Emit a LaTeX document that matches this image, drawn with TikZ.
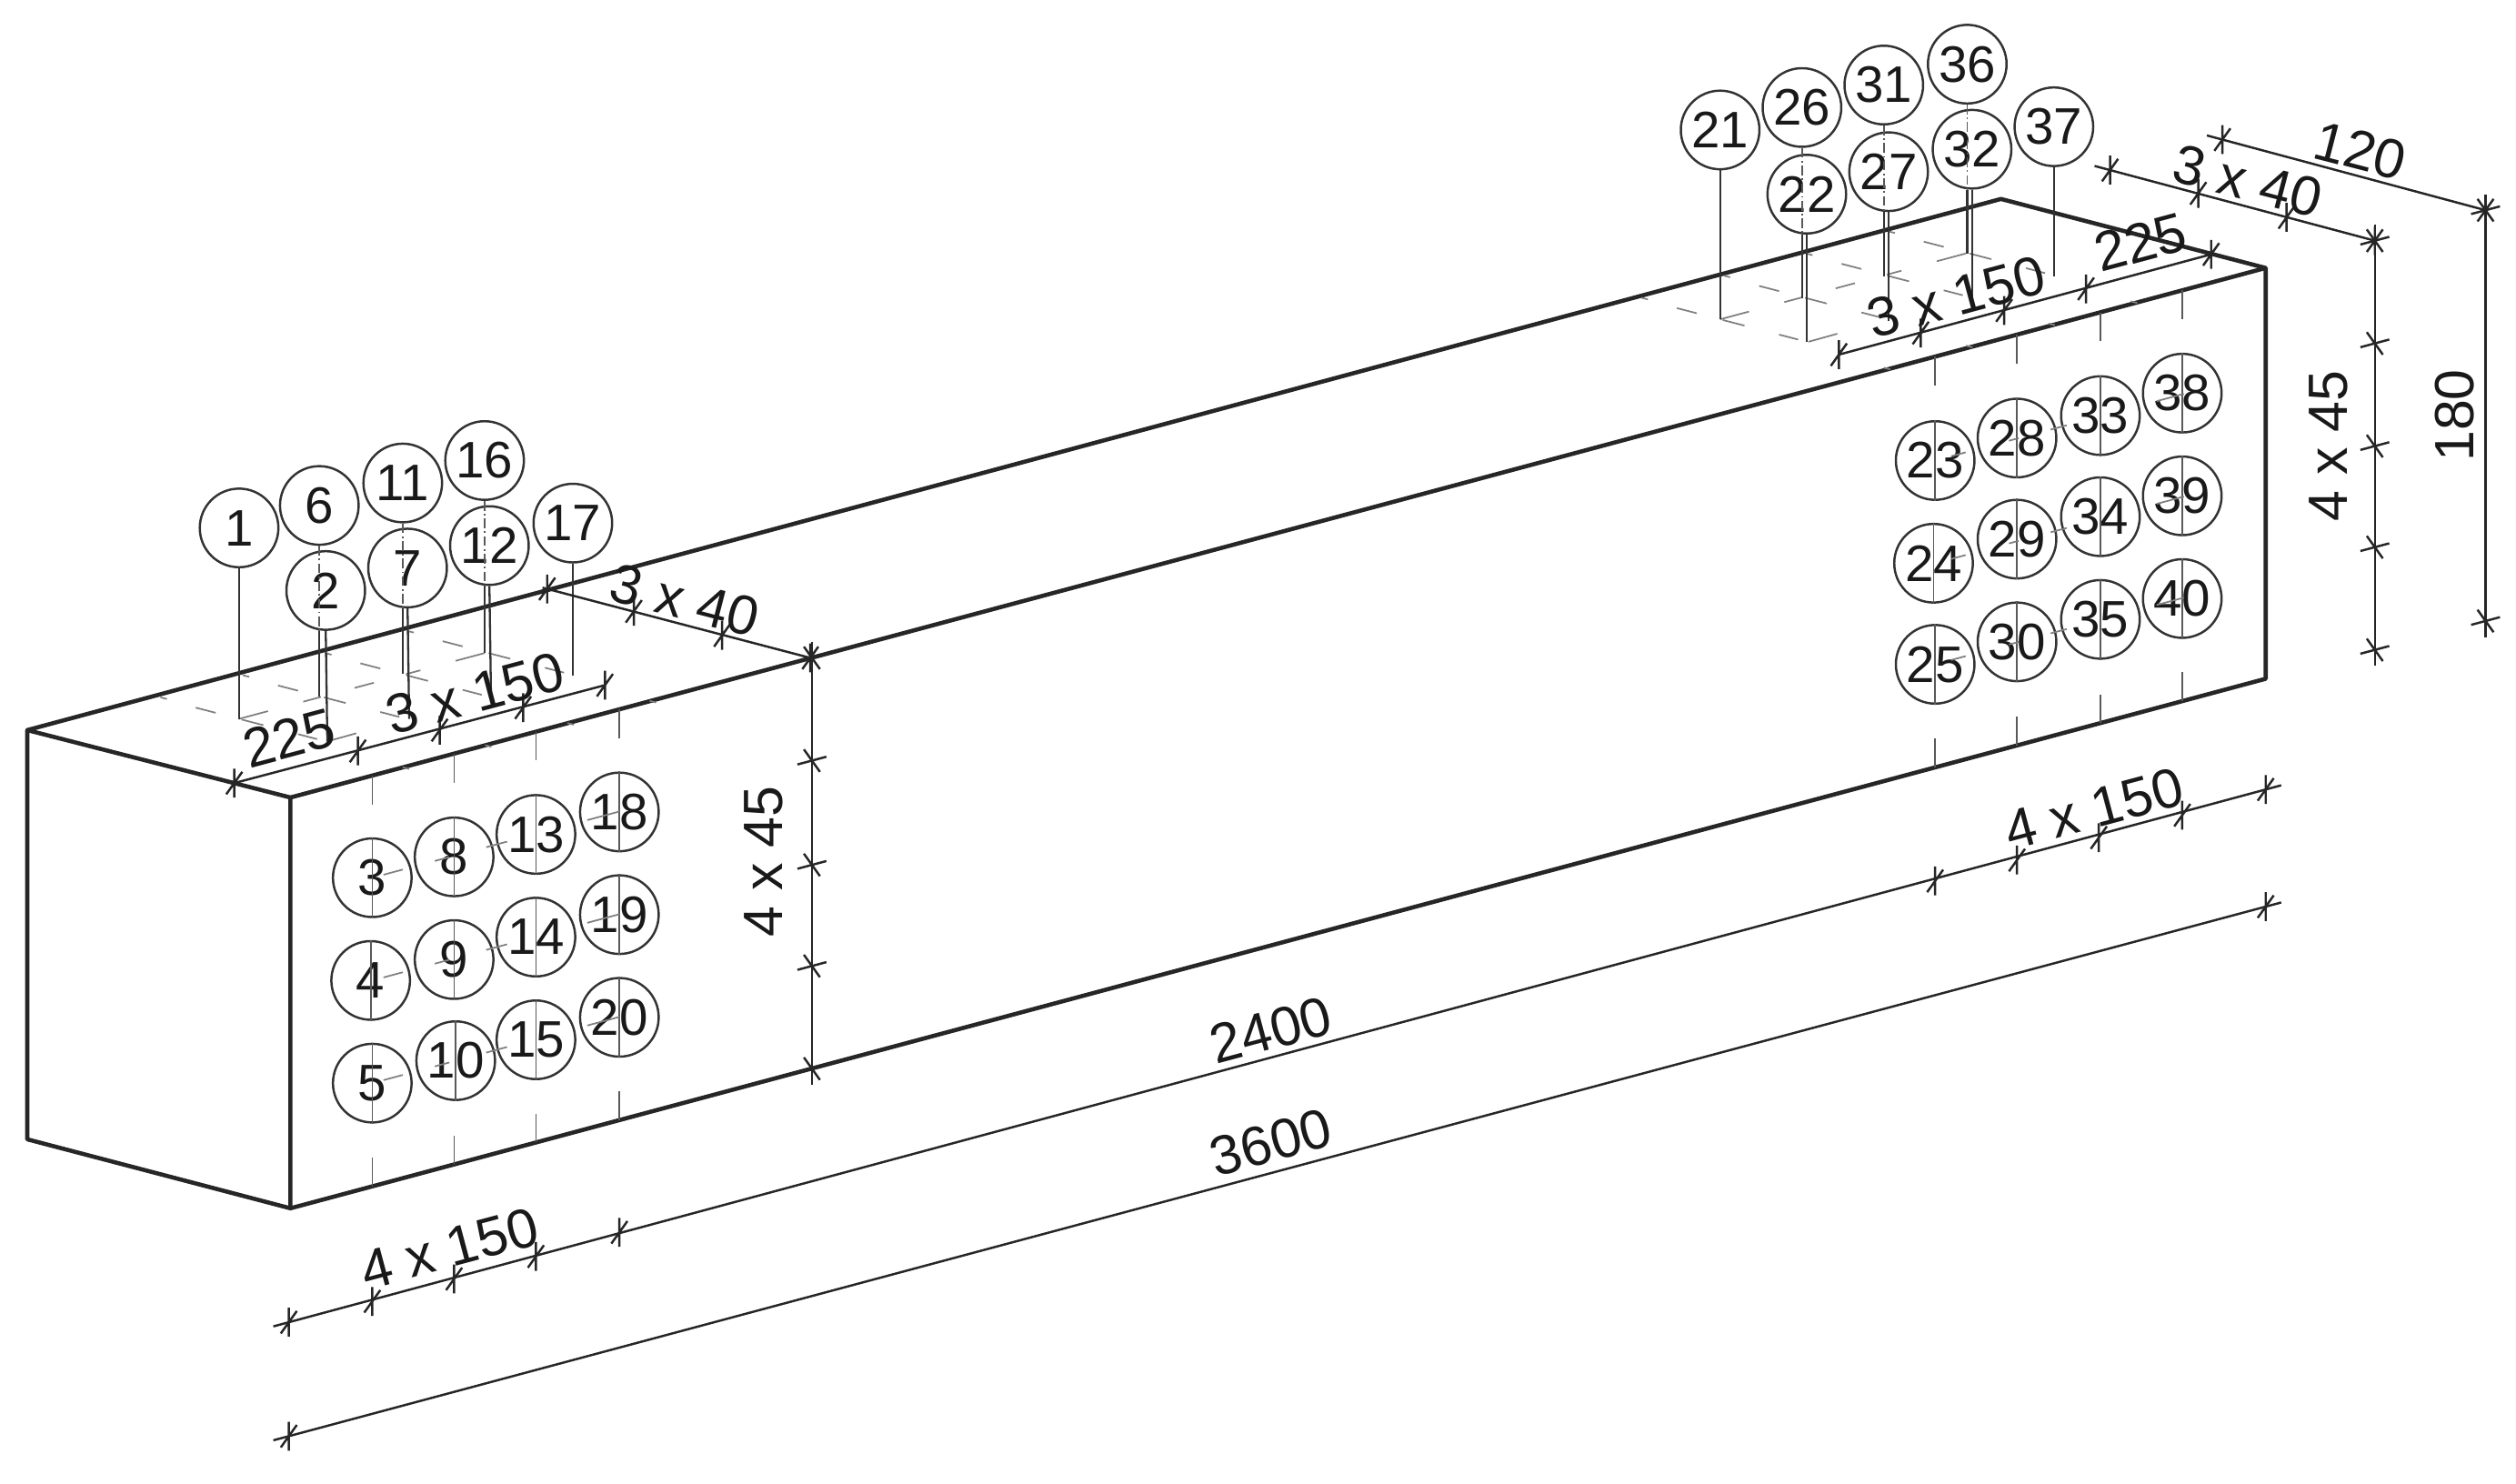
\documentclass[tikz,border=0pt]{standalone}
\usepackage{fontspec}
\setmainfont{Liberation Sans}
\tikzset{
	boxline/.style={line width=2.6pt,black!85},
	bar/.style={draw=black!80,circle,line width=1.4pt,minimum size=49pt,inner sep=0pt,font=\fontsize{32}{36}\selectfont,text=black!90},
	leader/.style={line width=1.3pt,black!80},
	inner/.style={line width=1pt,black!65},
	griddash/.style={line width=1pt,black!50},
	dimline/.style={line width=1.4pt,black!85},
	dimtext/.style={font=\fontsize{34.5}{40}\selectfont,text=black!90,inner sep=0pt},
	tkh/.pic={\draw[dimline] (0,-9)--(0,9) (-5,7)--(5,-7);},
	tkv/.pic={\draw[dimline] (-9,2.4)--(9,-2.4) (-5,-7)--(5,7);}
}
\begin{document}
\begin{tikzpicture}[x=1pt,y=-1pt]
	\useasboundingbox (0,0) rectangle (1568,924.8);
	\draw[boxline,line join=round] (181,497)--(17,455)--(17,710)--(181,753)--(1412,423)--(1412,167)--(1247,124)--(17,455);
	\draw[boxline] (181,497)--(181,753) (181,497)--(1412,167);
	\foreach \n/\x/\y in {3/232/547,8/283/534,13/334/520,18/386/506,4/231/611,9/283/598,14/334/584,19/386/570,5/232/675,10/284/661,15/334/648,20/386/634,23/1206/287,28/1257/273,33/1309/259,38/1360/245,24/1205/351,29/1257/336,34/1309/322,39/1360/309,25/1206/414,30/1257/400,35/1309/386,40/1360/373}
		\node[bar] (c\n) at (\x,\y) {\n};
	\foreach \n/\x/\y in {1/149/329,6/199/315,11/251/301,16/302/287,17/357/326,2/203/368,7/254/354,12/305/340,21/1072/81,26/1123/67,31/1174/53,36/1226/40,37/1280/79,22/1126/121,27/1177/107,32/1229/93}
		\node[bar] (c\n) at (\x,\y) {\n};
	\foreach \n in {3,8,13,18,4,9,14,19,5,10,15,20,23,28,33,38,24,29,34,39,25,30,35,40}
		\draw[inner] (c\n.north)--(c\n.south);
	\foreach \x in {232,283,334,386,1206,1257,1309,1360}{
		\draw[inner] (\x,{497-(\x-181)*.268})--++(0,18);
		\draw[inner] (\x,{753-(\x-181)*.268})--++(0,-18);
	}
	\foreach \y in {547,611,675}\foreach \a/\b in {239/251,271/280,303/316,366/386}
		\draw[griddash] (\a,{\y-(\a-232)*.268})--(\b,{\y-(\b-232)*.268});
	\foreach \y in {287,351,414}\foreach \a/\b in {1216/1225,1252/1258,1278/1288,1344/1361}
		\draw[griddash] (\a,{\y-(\a-1206)*.268})--(\b,{\y-(\b-1206)*.268});
	\foreach \sx/\sy in {0/0,923/-249}{
		\begin{scope}[shift={(\sx,\sy)}]
			\foreach \i in {0,...,3}\foreach \s/\e in {-.5/-.27,.03/.28,.68/.9}
				\draw[griddash] ({149+51.3*\i+54*\s},{448-13.8*\i+14*\s})--({149+51.3*\i+54*\e},{448-13.8*\i+14*\e});
			\foreach \a/\b in {149/167,189/200,221/233,253/262,284/302}
				\draw[griddash] (\a,{448-(\a-149)*.268})--(\b,{448-(\b-149)*.268});
			\draw[griddash] (204,462)--(222,457);
			\foreach \i in {0,...,3}{
				\draw[griddash] ({100+51.3*\i},{434.6-13.8*\i})--++(4,1);
				\draw[griddash] ({251+51.3*\i},{478.2-13.8*\i})--++(4,1);
			}
		\end{scope}
	}
	\foreach \n/\x/\y in {1/149/448,17/357/421,21/1072/199,37/1280/172,2/204/462,7/255/448,12/306/434,22/1126/213,27/1177/200,32/1229/186}
		\draw[leader] (c\n.south)--(\x,\y);
	\foreach \n/\m/\y in {6/2/434,11/7/420,16/12/407,26/22/186,31/27/172,36/32/158}{
		\draw[inner,dash pattern=on 6pt off 2pt on 1pt off 2pt] (c\n.south-|c\n)--(c\m.south-|c\n);
		\draw[leader] (c\m.south-|c\n)--(c\n|-0,\y);
	}
	\coordinate (a1) at (146,488);\coordinate (a2) at (223,468);\coordinate (a3) at (274,455);\coordinate (a4) at (326,441);\coordinate (a5) at (377,427);
	\coordinate (b1) at (341,367);\coordinate (b2) at (395,381);\coordinate (b3) at (450,396);\coordinate (b4) at (505,410);
	\coordinate (v1) at (506,410);\coordinate (v2) at (506,474);\coordinate (v3) at (506,539);\coordinate (v4) at (506,602);\coordinate (v5) at (506,666);
	\coordinate (e1) at (1146,221);\coordinate (e2) at (1197,207.5);\coordinate (e3) at (1249,193.5);\coordinate (e4) at (1300,180);\coordinate (e5) at (1378,158.5);
	\coordinate (f1) at (1315,106);\coordinate (f2) at (1370,120.5);\coordinate (f3) at (1425,135.5);\coordinate (f4) at (1480,150);
	\coordinate (g1) at (1385,87);\coordinate (g2) at (1549,131);
	\coordinate (w1) at (1480,150);\coordinate (w2) at (1480,214);\coordinate (w3) at (1480,278);\coordinate (w4) at (1480,341);\coordinate (w5) at (1480,405);
	\coordinate (h1) at (1549,131);\coordinate (h2) at (1549,387);
	\coordinate (p1) at (180,824);\coordinate (p2) at (232,811);\coordinate (p3) at (283,797);\coordinate (p4) at (334,783);\coordinate (p5) at (386,768);
	\coordinate (p6) at (1206,549);\coordinate (p7) at (1257,536);\coordinate (p8) at (1308,522);\coordinate (p9) at (1360,508);\coordinate (p10) at (1412,492);
	\coordinate (t1) at (180,895);\coordinate (t2) at (1412,565);
	\draw[dimline] (a1)--(a5);
	\draw[dimline] (e1)--(e5);
	\draw[dimline,shorten <=-3pt] (b1)--(b4);
	\draw[dimline,shorten <=-10pt] (f1)--(f4);
	\draw[dimline,shorten <=-10pt] (g1)--(g2);
	\draw[dimline,shorten <=-10pt,shorten >=-10pt] (v1)--(v5);
	\draw[dimline,shorten <=-10pt,shorten >=-10pt] (w1)--(w5);
	\draw[dimline,shorten <=-10pt,shorten >=-10pt] (h1)--(h2);
	\draw[dimline,shorten <=-10pt,shorten >=-10pt] (p1)--(p10);
	\draw[dimline,shorten <=-10pt,shorten >=-10pt] (t1)--(t2);
	\foreach \p in {a1,a2,a3,a4,a5,b1,b2,b3,b4,e1,e2,e3,e4,e5,f1,f2,f3,f4,g1,g2,p1,p2,p3,p4,p5,p6,p7,p8,p9,p10,t1,t2}
		\pic at (\p) {tkh};
	\foreach \p in {v1,v2,v3,v4,v5,w1,w2,w3,w4,w5,h1,h2}
		\pic at (\p) {tkv};
	\node[dimtext,rotate=15] (l225a) at (180,460) {225};
	\node[dimtext,rotate=15] (l150a) at (296,432) {3 x 150};
	\node[dimtext,rotate=-14.5] (l40a) at (427,374) {3 x 40};
	\node[dimtext,rotate=90] (l45a) at (476,537) {4 x 45};
	\node[dimtext,rotate=15] (l150b) at (280,778) {4 x 150};
	\node[dimtext,rotate=15] (l2400) at (792,642) {2400};
	\node[dimtext,rotate=15] (l150c) at (1305,504) {4 x 150};
	\node[dimtext,rotate=15] (l3600) at (792,712) {3600};
	\node[dimtext,rotate=15] (l150d) at (1219,185) {3 x 150};
	\node[dimtext,rotate=15] (l225b) at (1334,151) {225};
	\node[dimtext,rotate=-14.5] (l40b) at (1401,113) {3 x 40};
	\node[dimtext,rotate=-14.5] (l120) at (1471,94) {120};
	\node[dimtext,rotate=90] (l45b) at (1451,278) {4 x 45};
	\node[dimtext,rotate=90] (l180) at (1530,259) {180};
\end{tikzpicture}
\end{document}
